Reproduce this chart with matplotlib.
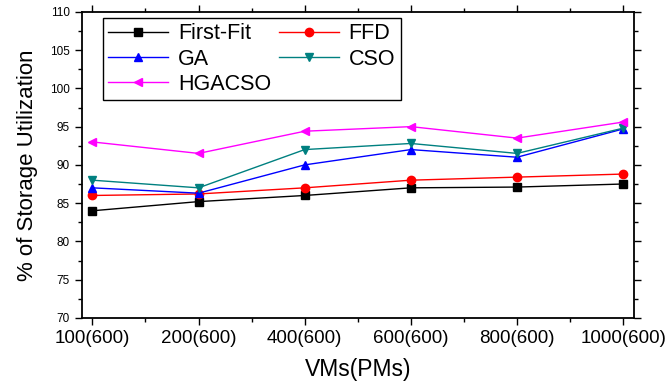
import matplotlib.pyplot as plt
from matplotlib.ticker import MultipleLocator

plt.rcParams["font.family"] = ["Liberation Sans", "DejaVu Sans"]

categories = ["100(600)", "200(600)", "400(600)", "600(600)", "800(600)", "1000(600)"]
first_fit = [84.0, 85.2, 86.0, 87.0, 87.1, 87.5]
ffd = [86.0, 86.2, 87.0, 88.0, 88.4, 88.8]
ga = [87.0, 86.3, 90.0, 92.0, 91.0, 94.7]
cso = [88.0, 87.0, 92.0, 92.8, 91.5, 94.8]
hgacso = [93.0, 91.5, 94.4, 95.0, 93.5, 95.6]

series = [
    ("First-Fit", first_fit, "black", "s"),
    ("FFD", ffd, "red", "o"),
    ("GA", ga, "blue", "^"),
    ("CSO", cso, "#008080", "v"),
    ("HGACSO", hgacso, "magenta", "<"),
]

fig = plt.figure(figsize=(6.7, 3.83), dpi=100)
ax = fig.add_axes([0.122, 0.170, 0.824, 0.799])

x = list(range(len(categories)))
lines = {}
for name, values, color, marker in series:
    (ln,) = ax.plot(x, values, color=color, marker=marker, markersize=6,
                    linewidth=1, label=name)
    lines[name] = ln

ax.set_xlim(-0.1, 5.1)
ax.set_ylim(70, 110)
ax.set_xticks(x)
ax.set_xticklabels(categories, fontsize=13.5)
ax.xaxis.set_minor_locator(MultipleLocator(0.5))
ax.yaxis.set_major_locator(MultipleLocator(5))
ax.yaxis.set_minor_locator(MultipleLocator(2.5))
ax.tick_params(axis="y", labelsize=8.5)
ax.tick_params(which="both", direction="out", top=True, right=True)
ax.tick_params(which="major", length=5, width=1)
ax.tick_params(which="minor", length=3, width=1)
for spine in ax.spines.values():
    spine.set_linewidth(1.3)

ax.set_xlabel("VMs(PMs)", fontsize=16.5, labelpad=8)
ax.set_ylabel("% of Storage Utilization", fontsize=16, labelpad=9)

# row-wise legend order: First-Fit FFD / GA CSO / HGACSO
order = ["First-Fit", "GA", "HGACSO", "FFD", "CSO"]
leg = ax.legend([lines[n] for n in order], order, ncol=2, loc="upper left",
                bbox_to_anchor=(0.038, 0.98), fontsize=15.5,
                frameon=True, fancybox=False, edgecolor="black", framealpha=1,
                handlelength=2.8, borderpad=0.25, labelspacing=0.2,
                columnspacing=0.35, handletextpad=0.45, borderaxespad=0)
leg.get_frame().set_linewidth(1)

fig.savefig("out.png", dpi=100)
